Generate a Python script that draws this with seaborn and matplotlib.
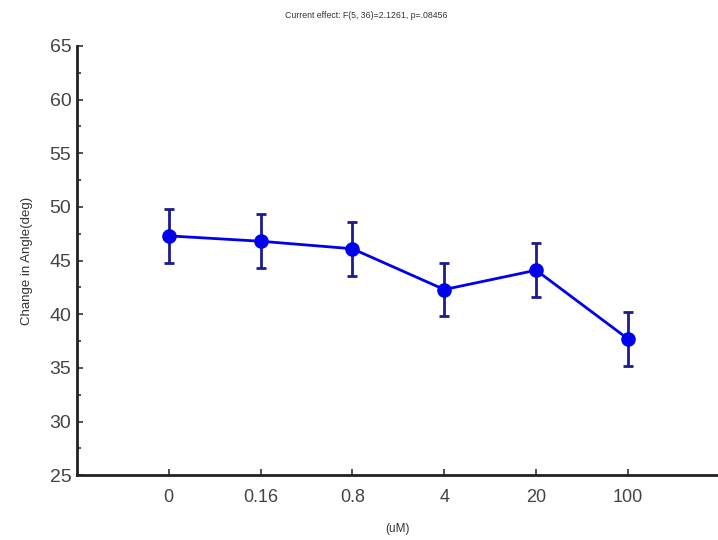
import matplotlib
matplotlib.use("Agg")
import matplotlib.pyplot as plt
import seaborn as sns
import numpy as np
import pandas as pd
from matplotlib.ticker import MultipleLocator

categories = ["0", "0.16", "0.8", "4", "20", "100"]
means = [47.3, 46.8, 46.1, 42.3, 44.1, 37.7]
errors = [2.5, 2.5, 2.5, 2.5, 2.5, 2.5]

sns.set_theme(style="white")
plt.rcParams["font.family"] = ["Liberation Sans", "DejaVu Sans"]

df = pd.DataFrame({"dose": categories, "angle": means})

fig = plt.figure(figsize=(7.18, 5.4), dpi=100)
ax = fig.add_axes([0.107, 0.12, 0.893, 0.795])

pos = np.arange(len(categories))
ax.errorbar(pos, means, yerr=errors, fmt="none", ecolor="#1c1c8c",
            elinewidth=2, capsize=3.5, capthick=2, zorder=2)
sns.pointplot(data=df, x="dose", y="angle", order=categories, color="#0000ee",
              markers="o", markersize=9, linewidth=2, errorbar=None, ax=ax,
              zorder=3)
ax.set_xlim(-1, 5.98)
ax.set_ylim(25, 65)
ax.yaxis.set_major_locator(MultipleLocator(5))
ax.yaxis.set_minor_locator(MultipleLocator(2.5))
ax.tick_params(axis="both", which="both", direction="in", color="#333333")
ax.tick_params(axis="y", which="major", left=True, length=4, width=1.2,
               labelsize=14, labelcolor="#444444", pad=4)
ax.tick_params(axis="y", which="minor", length=3, width=1.2, left=True)
ax.tick_params(axis="x", which="major", bottom=True, length=4, width=1.2,
               labelsize=13, labelcolor="#444444", pad=10)

for s in ["top", "right"]:
    ax.spines[s].set_visible(False)
for s in ["left", "bottom"]:
    ax.spines[s].set_color("#222222")
    ax.spines[s].set_linewidth(2)

ax.set_xlabel("(uM)", fontsize=8.5, color="#333333", labelpad=12)
ax.set_ylabel("Change in Angle(deg)", fontsize=9.5, color="#333333", labelpad=12)
fig.text(0.51, 0.972, "Current effect: F(5, 36)=2.1261, p=.08456", ha="center",
         va="center", fontsize=6.3, color="#333333")

fig.savefig("out.png", dpi=100)
